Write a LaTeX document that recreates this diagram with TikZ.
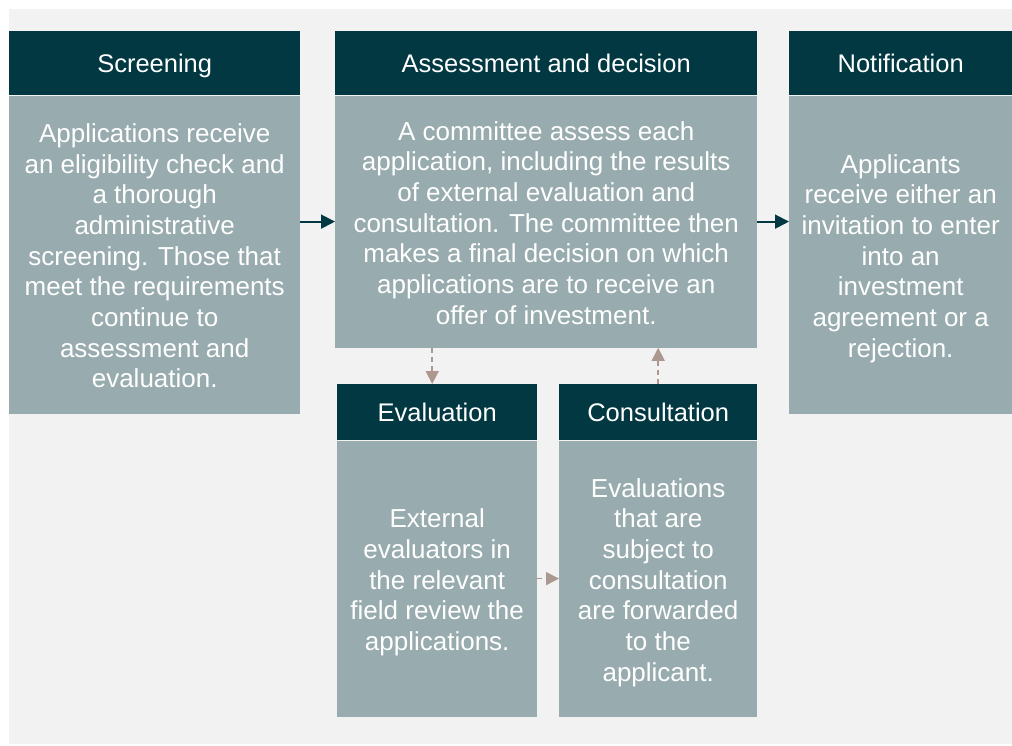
\documentclass[tikz,border=0pt]{standalone}
\usepackage{fontspec}
\setmainfont{Liberation Sans}
\usetikzlibrary{positioning,arrows.meta}

\definecolor{headteal}{RGB}{1,56,66}
\definecolor{bodygray}{RGB}{152,171,174}
\definecolor{linkbrown}{RGB}{172,152,145}
\definecolor{pagegray}{RGB}{242,242,242}

% ascent and descent of the first and last body line
\newcommand{\firstline}{\rule[-5.5pt]{0pt}{32pt}}
\newcommand{\lastline}{\rule[-5.5pt]{0pt}{29pt}}

\begin{document}
\begin{tikzpicture}[x=1pt,y=-1pt,
    head/.style={fill=headteal, text=white, inner sep=0pt, anchor=north west,
      text height=23.1pt, text depth=5.4pt, font=\fontsize{25.5}{30}\selectfont},
    body/.style={fill=bodygray, text=white, inner sep=0pt, align=center,
      font=\fontsize{26}{30.7}\selectfont},
    flow/.style={draw=headteal, line width=1.8pt, -{Triangle[length=14pt,width=14pt]}},
    loop/.style={draw=linkbrown, line width=1.5pt, dash pattern=on 5pt off 4pt,
      -{Triangle[length=13pt,width=13pt]}}]
      \useasboundingbox (0,0) rectangle (1012,745);
      \fill[pagegray] (9,9) rectangle (1012,744);

       % screening
      \node[head, minimum width=291pt, minimum height=64pt] (screen) at (9,31) {Screening};
      \node[body, minimum width=291pt, minimum height=318pt, below=0pt of screen] (screenbody)
        {\firstline Applications receive\\an eligibility check and\\a thorough\\administrative\\screening. Those that\\meet the requirements\\continue to\\assessment and\\evaluation.\lastline};

       % assessment
      \node[head, minimum width=422pt, minimum height=64pt] (assess) at (335,31) {Assessment and decision};
      \node[body, minimum width=422pt, minimum height=252pt, below=0pt of assess] (assessbody)
        {\firstline A committee assess each\\application, including the results\\of external evaluation and\\consultation. The committee then\\makes a final decision on which\\applications are to receive an\\offer of investment.\lastline};

       % notification
      \node[head, minimum width=223pt, minimum height=64pt] (notif) at (789,31) {Notification};
      \node[body, minimum width=223pt, minimum height=318pt, below=0pt of notif] (notifbody)
        {\firstline Applicants\\receive either an\\invitation to enter\\into an\\investment\\agreement or a\\rejection.\lastline};

       % evaluation
      \node[head, minimum width=200pt, minimum height=56pt] (eval) at (337,384) {Evaluation};
      \node[body, minimum width=200pt, minimum height=276pt, below=0pt of eval] (evalbody)
        {\firstline External\\evaluators in\\the relevant\\field review the\\applications.\lastline};

       % consultation
      \node[head, minimum width=198pt, minimum height=56pt] (consult) at (559,384) {Consultation};
      \node[body, minimum width=198pt, minimum height=276pt, below=0pt of consult] (consultbody)
        {\firstline Evaluations\\that are\\subject to\\consultation\\are forwarded\\to the\\applicant.\lastline};

       % arrows
      \draw[flow] (screenbody.east |- assessbody.west) -- (assessbody.west);
      \draw[flow] (assessbody.east) -- (notifbody.west |- assessbody.east);
      \draw[loop] ([xshift=-5pt]eval.north |- assessbody.south) -- ([xshift=-5pt]eval.north);
      \draw[loop] (consult.north) -- (consult.north |- assessbody.south);
      \draw[loop] (evalbody.east) -- (consultbody.west);
    \end{tikzpicture}
\end{document}
